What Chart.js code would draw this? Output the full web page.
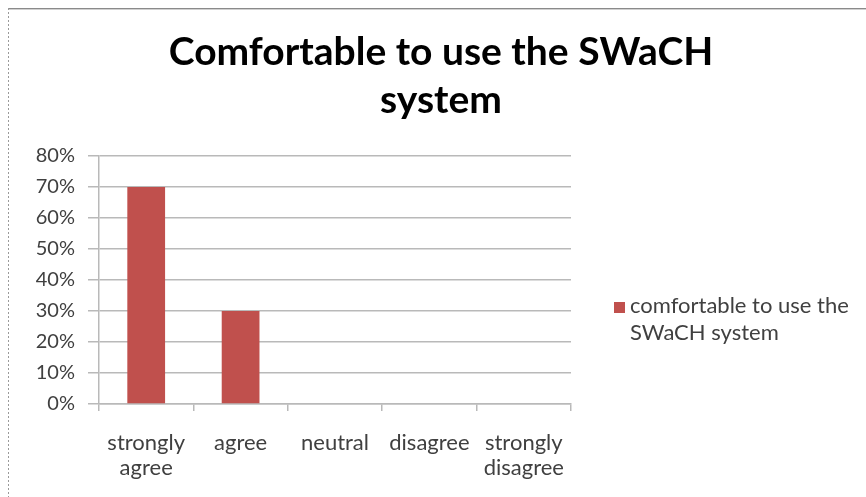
<!DOCTYPE html>
<html>
<head>
<meta charset="utf-8">
<script src="https://cdn.jsdelivr.net/npm/chart.js@4/dist/chart.umd.min.js"></script>
<style>
  html, body { margin: 0; padding: 0; background: #ffffff; }
  #wrap { width: 866px; height: 497px; }
</style>
</head>
<body>
<div id="wrap"><canvas id="c" width="866" height="497"></canvas></div>
<script>
// Survey answers and the share of respondents for each
const categories = [['strongly', 'agree'], 'agree', 'neutral', 'disagree', ['strongly', 'disagree']];
const shares = [0.70, 0.30, 0, 0, 0];
const seriesLabel = 'comfortable to use the SWaCH system';
const legendLines = ['comfortable to use the', 'SWaCH system'];
const titleLines = ['Comfortable to use the SWaCH', 'system'];
const yTicks = { min: 0, max: 0.8, step: 0.1 };

const FONT = 'Lato, Carlito, Calibri, "Open Sans", sans-serif';
const TEXT = '#404040';
const GRID = '#b9b9b9';
const BAR = '#c0504d';

// Outer frame: solid top edge, dotted left edge
const framePlugin = {
  id: 'frame',
  beforeDraw(chart) {
    const ctx = chart.ctx;
    ctx.save();
    ctx.fillStyle = '#ffffff';
    ctx.fillRect(0, 0, chart.width, chart.height);
    ctx.strokeStyle = '#8a8a8a';
    ctx.lineWidth = 1;
    ctx.beginPath();
    ctx.moveTo(8, 8.5);
    ctx.lineTo(chart.width, 8.5);
    ctx.stroke();
    ctx.strokeStyle = '#d0d0d0';
    ctx.beginPath();
    ctx.moveTo(8, 9.5);
    ctx.lineTo(chart.width, 9.5);
    ctx.stroke();
    ctx.strokeStyle = '#9a9a9a';
    ctx.setLineDash([2, 2]);
    ctx.beginPath();
    ctx.moveTo(8.5, 8);
    ctx.lineTo(8.5, chart.height);
    ctx.stroke();
    ctx.restore();
  }
};

// Two-line title centred over the whole framed chart (plot and legend)
const titlePlugin = {
  id: 'wideTitle',
  afterDraw(chart) {
    const ctx = chart.ctx;
    ctx.save();
    ctx.fillStyle = '#000000';
    ctx.font = 'bold 39px ' + FONT;
    ctx.textAlign = 'center';
    ctx.textBaseline = 'alphabetic';
    const cx = (16 + chart.width) / 2;
    titleLines.forEach((line, i) => ctx.fillText(line, cx, 65 + i * 48));
    ctx.restore();
  }
};

// Legend to the right of the plot, wrapped over two lines
const sideLegendPlugin = {
  id: 'sideLegend',
  afterDraw(chart) {
    const ctx = chart.ctx;
    const area = chart.chartArea;
    const ds = chart.data.datasets[0];
    const x = area.right + 43;
    const y = 302;
    ctx.save();
    ctx.fillStyle = ds.backgroundColor;
    ctx.fillRect(x, y, 11, 11);
    ctx.fillStyle = TEXT;
    ctx.font = '22px ' + FONT;
    ctx.textBaseline = 'alphabetic';
    ctx.textAlign = 'left';
    legendLines.forEach((line, i) => ctx.fillText(line, x + 16, 313 + i * 27));
    ctx.restore();
  }
};

new Chart(document.getElementById('c'), {
  type: 'bar',
  data: {
    labels: categories,
    datasets: [{
      label: seriesLabel,
      data: shares,
      backgroundColor: BAR,
      borderWidth: 0,
      categoryPercentage: 1.0,
      barPercentage: 0.4
    }]
  },
  options: {
    responsive: false,
    animation: false,
    devicePixelRatio: 1,
    layout: { padding: { left: 16, right: 295, top: 156, bottom: 0 } },
    plugins: {
      legend: { display: false },
      tooltip: { enabled: false },
      title: { display: false }
    },
    scales: {
      x: {
        afterFit(scale) { scale.height = 93; },
        grid: {
          offset: true,
          drawOnChartArea: false,
          tickLength: 7,
          color: GRID,
          lineWidth: 1.5
        },
        border: { color: GRID, width: 1.5 },
        ticks: {
          color: TEXT,
          font: { family: FONT, size: 22, lineHeight: 1.15 },
          padding: 19,
          maxRotation: 0,
          autoSkip: false
        }
      },
      y: {
        min: yTicks.min,
        max: yTicks.max,
        afterFit(scale) { scale.width = 83; },
        grid: { color: GRID, lineWidth: 1.5, tickLength: 11 },
        border: { color: GRID, width: 1.5 },
        ticks: {
          stepSize: yTicks.step,
          color: TEXT,
          font: { family: FONT, size: 20 },
          padding: 13,
          callback: v => Math.round(v * 100) + '%'
        }
      }
    }
  },
  plugins: [framePlugin, titlePlugin, sideLegendPlugin]
});
</script>
</body>
</html>
